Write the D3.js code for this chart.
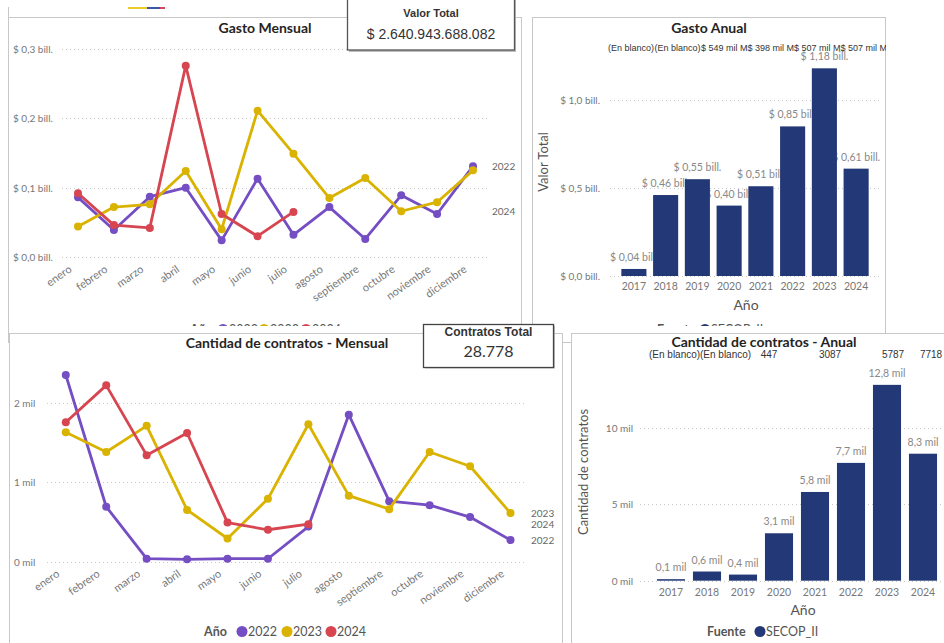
<!DOCTYPE html>
<html><head><meta charset="utf-8">
<script src="https://cdn.jsdelivr.net/npm/d3@7"></script>
<style>
body{margin:0;background:#fff;}
svg{display:block;}
</style></head><body>
<svg id="c" width="944" height="643"></svg>
<script>
// ---------- DATA ----------
const months = ["enero","febrero","marzo","abril","mayo","junio","julio","agosto","septiembre","octubre","noviembre","diciembre"];
const seriesYears = ["2022","2023","2024"];
const gastoMensual2022 = [0.086,0.039,0.087,0.100,0.024,0.113,0.032,0.072,0.026,0.089,0.062,0.131];
const gastoMensual2023 = [0.044,0.072,0.076,0.124,0.040,0.211,0.149,0.085,0.114,0.066,0.079,0.125];
const gastoMensual2024 = [0.092,0.046,0.042,0.276,0.062,0.030,0.065];
const gastoEndLabels = ["2022","2024"];
const contratosMensual2022 = [2.35,0.69,0.035,0.027,0.035,0.035,0.44,1.85,0.76,0.71,0.56,0.27];
const contratosMensual2023 = [1.63,1.38,1.71,0.65,0.29,0.79,1.73,0.83,0.66,1.38,1.20,0.61];
const contratosMensual2024 = [1.755,2.22,1.34,1.62,0.49,0.40,0.47];
const contratosEndLabels = ["2022","2023","2024"];
const years = ["2017","2018","2019","2020","2021","2022","2023","2024"];
const gastoAnual = [0.04,0.46,0.55,0.40,0.51,0.85,1.18,0.61];
const contratosAnual = [0.1,0.6,0.4,3.1,5.8,7.7,12.8,8.3];
const gastoMensualTicks = [0,0.1,0.2,0.3];
const gastoAnualTicks = [0,0.5,1.0];
const contratosMensualTicks = [0,1,2];
const contratosAnualTicks = [0,5,10];
const gastoAnualTopLabels = ["(En blanco)","(En blanco)","$ 549 mil M","$ 398 mil M","$ 507 mil M","$ 507 mil M"];
const contratosAnualTopLabels = ["(En blanco)","(En blanco)","447","3087","5787","7718"];
const valorTotal = "$ 2.640.943.688.082";
const contratosTotal = "28.778";
const legendSource = "SECOP_II";

// ---------- STYLE ----------
const FONT = "Lato, 'Open Sans', sans-serif";
const ARIAL = "'Liberation Sans', Arial, sans-serif";
const colors = {"2022":"#744EC2","2023":"#D9B300","2024":"#D64550"};
const barColor = "#233876";
const tickColor = "#777";
const gridColor = "#c9c9c9";
const borderColor = "#c8c8c8";

const svg = d3.select("#c");
svg.append("rect").attr("width",944).attr("height",643).attr("fill","#fff");
const defs = svg.append("defs");

const fmtBillTick = v => "$ " + d3.format(".1f")(v).replace(".", ",") + " bill.";
const fmtBillBar = v => "$ " + d3.format(".2f")(v).replace(".", ",") + " bill.";
const fmtMilTick = v => d3.format("d")(v) + " mil";
const fmtMilBar = v => d3.format(".1f")(v).replace(".", ",") + " mil";

function txt(g, x, y, s, opts={}) {
  return g.append("text").attr("x",x).attr("y",y).text(s)
    .attr("font-family", opts.font || FONT)
    .attr("font-size", opts.size || 10)
    .attr("font-weight", opts.weight || "normal")
    .attr("fill", opts.fill || tickColor)
    .attr("text-anchor", opts.anchor || "start");
}

function clip(id, x, y, w, h) {
  defs.append("clipPath").attr("id", id).attr("clipPathUnits","userSpaceOnUse")
    .append("rect").attr("x",x).attr("y",y).attr("width",w).attr("height",h);
  return `url(#${id})`;
}

function yAxisLabels(g, scale, ticks, fmt, x, anchor) {
  const a = g.append("g").call(d3.axisLeft(scale).tickValues(ticks).tickFormat(fmt).tickSize(0).tickPadding(0));
  a.select(".domain").remove();
  a.attr("font-family", FONT).attr("font-size", 10);
  a.selectAll("text").attr("x", x).attr("text-anchor", anchor).attr("fill", tickColor).attr("dy","0.35em");
}

function grid(g, scale, ticks, x0, x1) {
  g.append("g").selectAll("line").data(ticks).join("line")
    .attr("x1", x0).attr("x2", x1)
    .attr("y1", d => Math.round(scale(d)) + 0.5).attr("y2", d => Math.round(scale(d)) + 0.5)
    .attr("stroke", gridColor).attr("stroke-width", 1.2).attr("stroke-dasharray", "1,3");
}

function monthAxis(g, xs, y0) {
  const a = g.append("g").attr("transform", `translate(0,${y0})`)
    .call(d3.axisBottom(xs).tickSize(0));
  a.select(".domain").remove();
  a.attr("font-family", FONT).attr("font-size", 11);
  a.selectAll("text").attr("y", 0).attr("dy", 0).attr("fill", tickColor)
    .attr("text-anchor", "end").attr("transform", "translate(-6,14) rotate(-35)");
}

function lineSeries(g, xs, ys, seriesData) {
  const line = d3.line().x((d,i) => xs(months[i])).y(d => ys(d));
  seriesData.forEach(s => {
    g.append("path").datum(s.values).attr("d", line).attr("fill","none")
      .attr("stroke", colors[s.year]).attr("stroke-width", 2.8).attr("stroke-linejoin","round");
    g.append("g").selectAll("circle").data(s.values).join("circle")
      .attr("cx", (d,i) => xs(months[i])).attr("cy", d => ys(d)).attr("r", 4)
      .attr("fill", colors[s.year]);
  });
}

function endLabels(g, xs, ys, seriesData, shown, x) {
  seriesData.filter(s => shown.includes(s.year)).forEach(s => {
    const last = s.values[s.values.length - 1];
    txt(g, x, ys(last) + 3.5, s.year, {size: 10, fill: "#666"});
  });
}

function yearLegend(g, xTitle, xs, y) {
  txt(g, xTitle, y, "Año", {size: 12.5, weight: "bold", fill: "#555"});
  seriesYears.forEach((yr, i) => {
    g.append("circle").attr("cx", xs[i]).attr("cy", y - 4.5).attr("r", 5.5).attr("fill", colors[yr]);
    txt(g, xs[i] + 6, y, yr, {size: 12.5, fill: "#555"});
  });
}

function sourceLegend(g, xTitle, xc, y) {
  txt(g, xTitle, y, "Fuente", {size: 12.5, weight: "bold", fill: "#555"});
  g.append("circle").attr("cx", xc).attr("cy", y - 4.5).attr("r", 5.5).attr("fill", barColor);
  txt(g, xc + 6, y, legendSource, {size: 12.5, fill: "#555"});
}

function panel(x, y, w, h) {
  svg.append("rect").attr("x", x + 0.5).attr("y", y + 0.5).attr("width", w).attr("height", h)
    .attr("fill", "#fff").attr("stroke", borderColor).attr("stroke-width", 1);
}

// ---------- decorations ----------
svg.append("line").attr("x1",8.5).attr("x2",8.5).attr("y1",7).attr("y2",18).attr("stroke",borderColor);
[[128,147,"#EFCB2A"],[147,160,"#3B58A6"],[160,165,"#D5455B"]].forEach(d => {
  svg.append("rect").attr("x", d[0]).attr("y", 7).attr("width", d[1]-d[0]).attr("height", 2).attr("fill", d[2]);
});

// ---------- TOP LEFT: Gasto Mensual ----------
panel(8, 17, 513, 325);
{
  const g = svg.append("g");
  txt(g, 265, 33, "Gasto Mensual", {size: 14, weight: "bold", fill: "#252423", anchor: "middle"});
  const xs = d3.scalePoint().domain(months).range([78, 473]);
  const ys = d3.scaleLinear().domain([0, 0.3]).range([257, 49]);
  grid(g, ys, gastoMensualTicks, 62, 490);
  yAxisLabels(g, ys, gastoMensualTicks, fmtBillTick, 13, "start");
  monthAxis(g, xs, 257);
  const data = [
    {year:"2022", values: gastoMensual2022},
    {year:"2023", values: gastoMensual2023},
    {year:"2024", values: gastoMensual2024}
  ];
  lineSeries(g, xs, ys, data);
  endLabels(g, xs, ys, data, gastoEndLabels, 492);
  const lg = svg.append("g").attr("clip-path", clip("clipTL", 0, 0, 521, 326));
  yearLegend(lg, 190, [223, 264, 306], 334);
}

// ---------- TOP RIGHT: Gasto Anual ----------
panel(532, 17, 353, 325);
{
  const g = svg.append("g");
  txt(g, 709, 33, "Gasto Anual", {size: 14, weight: "bold", fill: "#252423", anchor: "middle"});
  const tg = svg.append("g").attr("clip-path", clip("clipTR", 533, 17, 353, 320));
  gastoAnualTopLabels.forEach((s, i) => {
    txt(tg, 608 + i * 46.5, 51, s, {font: ARIAL, size: 9, fill: "#333"});
  });
  const xs = d3.scaleBand().domain(years).range([618, 872]).paddingInner(0.21).paddingOuter(0.105);
  const ys = d3.scaleLinear().domain([0, 1]).range([276, 100]);
  grid(g, ys, gastoAnualTicks, 610, 882);
  yAxisLabels(g, ys, gastoAnualTicks, fmtBillTick, 600, "end");
  // bar labels first (bars cover them like in the reference)
  g.append("g").selectAll("text").data(gastoAnual).join("text")
    .attr("x", (d,i) => xs(years[i]) + xs.bandwidth()/2).attr("y", d => ys(d) - 8)
    .attr("text-anchor","middle").attr("font-family",FONT).attr("font-size",10.5).attr("fill","#888")
    .text(d => fmtBillBar(d));
  g.append("g").selectAll("rect").data(gastoAnual).join("rect")
    .attr("x", (d,i) => xs(years[i])).attr("width", xs.bandwidth())
    .attr("y", d => ys(d)).attr("height", d => ys(0) - ys(d)).attr("fill", barColor);
  g.append("g").selectAll("text").data(years).join("text")
    .attr("x", d => xs(d) + xs.bandwidth()/2).attr("y", 290).attr("text-anchor","middle")
    .attr("font-family",FONT).attr("font-size",10.5).attr("fill",tickColor).text(d => d);
  txt(g, 746, 310, "Año", {size: 14, fill: "#555", anchor: "middle"});
  txt(g, 0, 0, "Valor Total", {size: 13, fill: "#555", anchor: "middle"})
    .attr("transform", "translate(548,162) rotate(-90)");
  const lg = svg.append("g").attr("clip-path", clip("clipTR2", 533, 0, 353, 326));
  sourceLegend(lg, 657, 705, 334);
}

// ---------- Valor Total card ----------
{
  const g = svg.append("g");
  g.append("rect").attr("x", 349).attr("y", -4).attr("width", 167).attr("height", 56).attr("fill", "#bdbdbd");
  g.append("rect").attr("x", 347.5).attr("y", -5).attr("width", 167).attr("height", 55)
    .attr("fill", "#fff").attr("stroke", "#555").attr("stroke-width", 1.3);
  txt(g, 431, 17, "Valor Total", {font: ARIAL, size: 11, weight: "bold", fill: "#333", anchor: "middle"});
  txt(g, 431, 39, valorTotal, {font: ARIAL, size: 14, fill: "#333", anchor: "middle"});
}

// ---------- BOTTOM LEFT: Cantidad de contratos - Mensual ----------
panel(9, 333, 553, 320);
{
  const g = svg.append("g");
  txt(g, 287, 347.5, "Cantidad de contratos - Mensual", {size: 14, weight: "bold", fill: "#252423", anchor: "middle"});
  const xs = d3.scalePoint().domain(months).range([65.8, 510.5]);
  const ys = d3.scaleLinear().domain([0, 2]).range([561.5, 402.8]);
  grid(g, ys, contratosMensualTicks, 47, 527);
  yAxisLabels(g, ys, contratosMensualTicks, fmtMilTick, 14, "start");
  monthAxis(g, xs, 561.5);
  const data = [
    {year:"2022", values: contratosMensual2022},
    {year:"2023", values: contratosMensual2023},
    {year:"2024", values: contratosMensual2024}
  ];
  lineSeries(g, xs, ys, data);
  endLabels(g, xs, ys, data, contratosEndLabels, 531);
  yearLegend(g, 204, [242, 287, 331], 636);
}

// ---------- BOTTOM RIGHT: Cantidad de contratos - Anual ----------
panel(571, 333, 380, 320);
{
  const g = svg.append("g");
  txt(g, 764, 346.5, "Cantidad de contratos - Anual", {size: 14, weight: "bold", fill: "#252423", anchor: "middle"});
  const topX = [649, 700, 769, 830, 893, 931];
  contratosAnualTopLabels.forEach((s, i) => {
    txt(g, topX[i], 357.5, s, {font: ARIAL, size: 10, fill: "#333", anchor: i < 2 ? "start" : "middle"});
  });
  const xs = d3.scaleBand().domain(years).range([653, 941]).paddingInner(0.22).paddingOuter(0.11);
  const ys = d3.scaleLinear().domain([0, 10]).range([580.7, 427.7]);
  grid(g, ys, contratosAnualTicks, 640, 944);
  yAxisLabels(g, ys, contratosAnualTicks, fmtMilTick, 633, "end");
  g.append("g").selectAll("text").data(contratosAnual).join("text")
    .attr("x", (d,i) => xs(years[i]) + xs.bandwidth()/2).attr("y", d => ys(d) - 8)
    .attr("text-anchor","middle").attr("font-family",FONT).attr("font-size",10.5).attr("fill","#888")
    .text(d => fmtMilBar(d));
  g.append("g").selectAll("rect").data(contratosAnual).join("rect")
    .attr("x", (d,i) => xs(years[i])).attr("width", xs.bandwidth())
    .attr("y", d => ys(d)).attr("height", d => ys(0) - ys(d)).attr("fill", barColor);
  g.append("g").selectAll("text").data(years).join("text")
    .attr("x", d => xs(d) + xs.bandwidth()/2).attr("y", 596).attr("text-anchor","middle")
    .attr("font-family",FONT).attr("font-size",10.5).attr("fill",tickColor).text(d => d);
  txt(g, 803, 615, "Año", {size: 14, fill: "#555", anchor: "middle"});
  txt(g, 0, 0, "Cantidad de contratos", {size: 13, fill: "#555", anchor: "middle"})
    .attr("transform", "translate(588,472) rotate(-90)");
  sourceLegend(g, 707, 760, 636);
}

// ---------- Contratos Total card ----------
{
  const g = svg.append("g");
  g.append("rect").attr("x", 425).attr("y", 325.5).attr("width", 130).attr("height", 43).attr("fill", "#bdbdbd");
  g.append("rect").attr("x", 423.5).attr("y", 324.5).attr("width", 130).attr("height", 43)
    .attr("fill", "#fff").attr("stroke", "#444").attr("stroke-width", 1.3);
  txt(g, 488.5, 335.5, "Contratos Total", {font: ARIAL, size: 12, weight: "bold", fill: "#333", anchor: "middle"});
  txt(g, 488.5, 357, contratosTotal, {font: FONT, size: 16, fill: "#333", anchor: "middle"});
}
</script>
</body></html>
